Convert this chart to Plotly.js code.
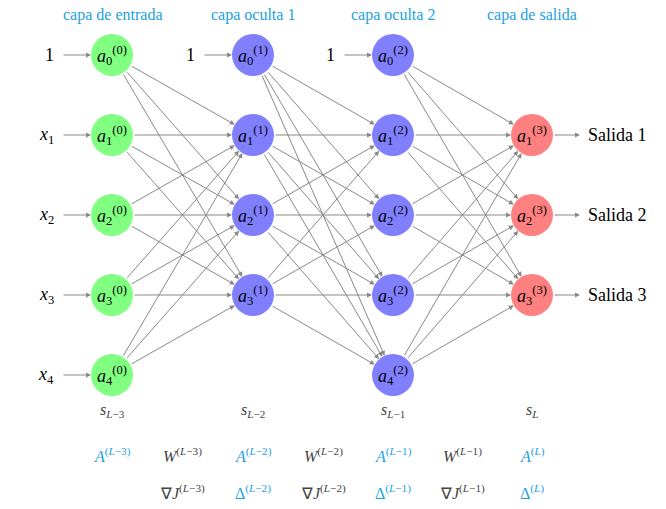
<!DOCTYPE html>
<html><head><meta charset="utf-8">
<script src="https://cdn.plot.ly/plotly-3.0.1.min.js"></script>
<style>body{margin:0}#plot{width:666px;height:509px}</style>
</head><body><div id="plot"></div>
<script>
// layer data
var layerX = [112, 253, 393, 532];
var layerRows = [[0,1,2,3,4],[0,1,2,3],[0,1,2,3,4],[1,2,3]];
var layerIdx = [0,1,2,3];
var layerColor = ['#80FF80','#8080FF','#8080FF','#FF8080'];
var layerTitles = ['capa de entrada','capa oculta 1','capa oculta 2','capa de salida'];
var inputLabels = ['1','<i>x</i><sub>1</sub>','<i>x</i><sub>2</sub>','<i>x</i><sub>3</sub>','<i>x</i><sub>4</sub>'];
var biasLabels = ['1','1'];
var outputLabels = ['Salida 1','Salida 2','Salida 3'];
var sLabels = ['<i>s</i><sub><i>L</i>−3</sub>','<i>s</i><sub><i>L</i>−2</sub>','<i>s</i><sub><i>L</i>−1</sub>','<i>s</i><sub><i>L</i></sub>'];
var aLabels = ['<i>A</i><sup>(<i>L</i>−3)</sup>','<i>A</i><sup>(<i>L</i>−2)</sup>','<i>A</i><sup>(<i>L</i>−1)</sup>','<i>A</i><sup>(<i>L</i>)</sup>'];
var wLabels = ['<i>W</i><sup>(<i>L</i>−3)</sup>','<i>W</i><sup>(<i>L</i>−2)</sup>','<i>W</i><sup>(<i>L</i>−1)</sup>'];
var gLabels = ['∇<i>J</i><sup>(<i>L</i>−3)</sup>','∇<i>J</i><sup>(<i>L</i>−2)</sup>','∇<i>J</i><sup>(<i>L</i>−1)</sup>'];
var dLabels = ['Δ<sup>(<i>L</i>−2)</sup>','Δ<sup>(<i>L</i>−1)</sup>','Δ<sup>(<i>L</i>)</sup>'];

var rowY = function(r){ return 55 + r*80; };
var R = 21;
var cyan = '#1BA1E2';
var font = 'Liberation Serif';
var shapes = [], ann = [];

function arrow(x0,y0,x1,y1,s0,s1){
  ann.push({x:x1,y:y1,ax:x0,ay:y0,xref:'x',yref:'y',axref:'x',ayref:'y',text:'',
    showarrow:true,arrowhead:2,arrowsize:1,arrowwidth:1,arrowcolor:'#888',
    standoff:s1,startstandoff:s0});
}
function txt(x,y,t,c,sz,anchor){
  ann.push({x:x,y:y,xref:'x',yref:'y',text:t,showarrow:false,
    font:{family:font,size:sz||17,color:c||'#000'},xanchor:anchor||'center'});
}

// edges between layers
for (var l=0;l<3;l++){
  layerRows[l].forEach(function(a){
    layerRows[l+1].forEach(function(b){
      if (b===0) return;
      arrow(layerX[l],rowY(a),layerX[l+1],rowY(b),R,R);
    });
  });
}
// nodes
layerIdx.forEach(function(l){
  layerRows[l].forEach(function(r){
    var x=layerX[l], y=rowY(r);
    shapes.push({type:'circle',xref:'x',yref:'y',x0:x-R,x1:x+R,y0:y-R,y1:y+R,
      fillcolor:layerColor[l],line:{width:0},layer:'above'});
    txt(x,y,'<i>a</i><sub>'+r+'</sub><sup>('+l+')</sup>','#000',18);
  });
  txt(layerX[l],15,layerTitles[l],cyan,16);
  txt(layerX[l],410,sLabels[l],'#444',16);
  txt(layerX[l],455,aLabels[l],cyan,16);
});
// inputs
inputLabels.forEach(function(t,i){
  txt(56,rowY(i),t,'#000',18,'right');
  arrow(62,rowY(i),layerX[0],rowY(i),0,R);
});
// bias inputs for hidden layers
biasLabels.forEach(function(t,i){
  var x=layerX[i+1];
  txt(x-56,rowY(0),t,'#000',18,'right');
  arrow(x-50,rowY(0),x,rowY(0),0,R);
});
// outputs
outputLabels.forEach(function(t,i){
  var y=rowY(i+1);
  arrow(layerX[3],y,layerX[3]+48,y,R,0);
  txt(layerX[3]+54,y,t,'#000',18,'left');
});
wLabels.forEach(function(t,i){ txt((layerX[i]+layerX[i+1])/2,455,t,'#444',16); });
gLabels.forEach(function(t,i){ txt((layerX[i]+layerX[i+1])/2,492,t,'#444',16); });
dLabels.forEach(function(t,i){ txt(layerX[i+1],492,t,cyan,16); });

Plotly.newPlot('plot',[],{
  width:666,height:509,margin:{l:0,r:0,t:0,b:0},
  paper_bgcolor:'#fff',plot_bgcolor:'#fff',
  xaxis:{range:[0,666],visible:false,fixedrange:true},
  yaxis:{range:[509,0],visible:false,fixedrange:true},
  shapes:shapes,annotations:ann,showlegend:false
},{staticPlot:true});
</script></body></html>
